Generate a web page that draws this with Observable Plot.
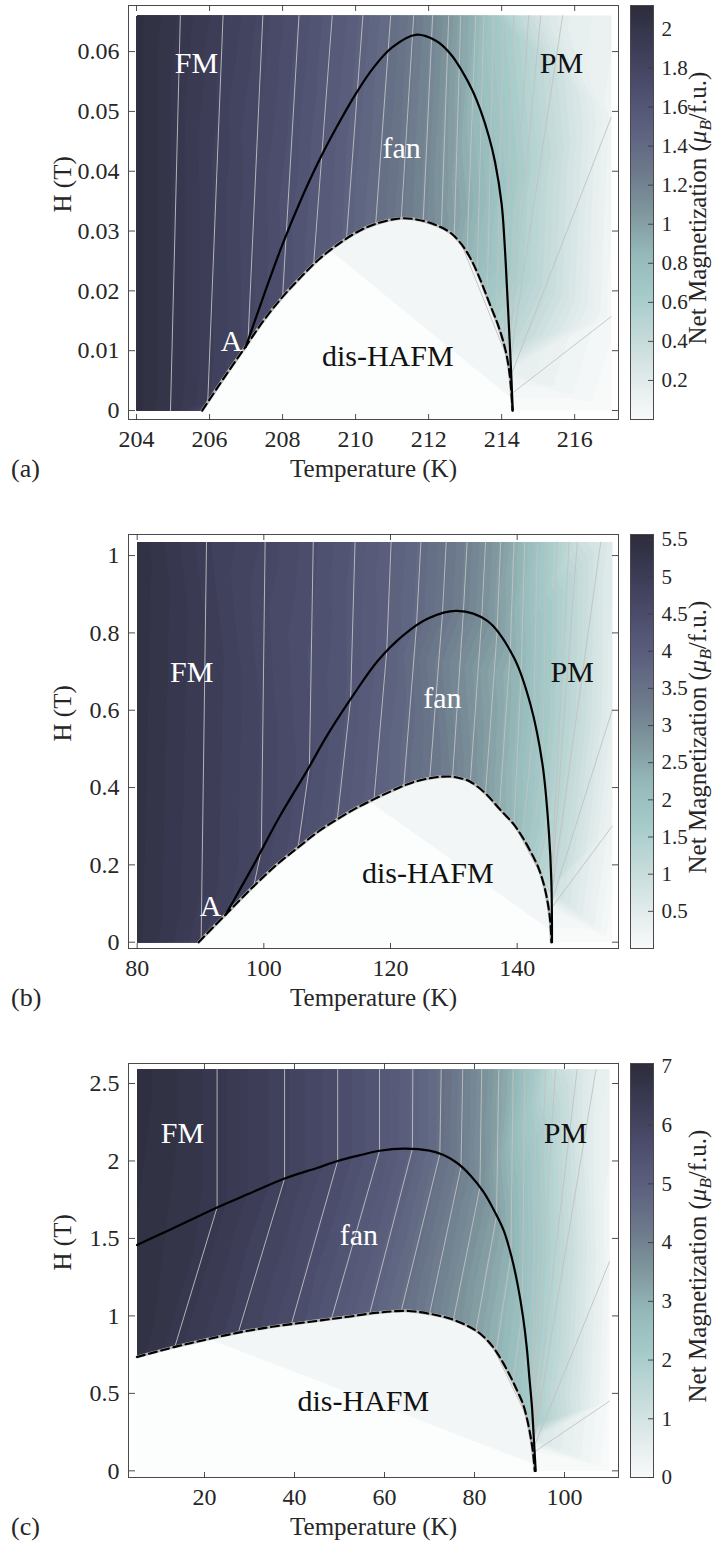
<!DOCTYPE html>
<html><head><meta charset="utf-8">
<script src="https://cdn.jsdelivr.net/npm/d3@7"></script>
<script src="https://cdn.jsdelivr.net/npm/@observablehq/plot@0.6"></script>
<style>
body{margin:0;background:#fff;}
#fig{position:relative;width:717px;height:1554px;font-family:"Liberation Serif",serif;color:#262626;}
#fig svg text{font-family:"Liberation Serif",serif;}
.tag{position:absolute;left:11px;font-size:26px;line-height:26px;font-family:"Liberation Serif",serif;color:#262626;}
</style></head><body><div id="fig"></div>
<script>
// ---------- colormap (fraction of colorbar max) ----------
const cmapStops  = [0, 0.1, 0.2, 0.3, 0.4, 0.5, 0.6, 0.7, 0.8, 0.9, 1];
const cmapColors = ["#f8fafa","#e0eaea","#c3dad9","#a5cbc9","#95b9b9","#7f979e","#6c798b","#5c617f","#4d4e6d","#3c3c56","#2c2c3c"];

// ---------- panel (a) ----------
const aXTicks = [204, 206, 208, 210, 212, 214, 216];
const aYTicks = [0, 0.01, 0.02, 0.03, 0.04, 0.05, 0.06];
const aCTicks = [0.2, 0.4, 0.6, 0.8, 1, 1.2, 1.4, 1.6, 1.8, 2];
const aLevels = [2.0,1.9,1.8,1.7,1.6,1.5,1.4,1.3,1.2,1.1,1.0,0.9,0.8,0.7,0.6,0.5,0.4,0.3,0.2,0.1,0.05];
const aIsolines = [
  [[205.2,0.066],[204.93,0]],
  [[206.37,0.066],[205.95,0.0014]],
  [[207.46,0.066],[207.05,0.0112]],
  [[208.45,0.066],[208.0,0.019]],
  [[209.36,0.066],[208.85,0.0244]],
  [[210.2,0.066],[209.75,0.0287]],
  [[210.96,0.066],[210.55,0.0312]],
  [[211.59,0.066],[211.25,0.0321]],
  [[212.11,0.066],[211.85,0.0316]],
  [[212.55,0.066],[212.35,0.0305]],
  [[212.88,0.066],[212.7,0.0291]],
  [[213.29,0.066],[213.05,0.0264]],
  [[213.51,0.066],[213.33,0.0228]],
  [[213.78,0.066],[213.6,0.0186]],
  [[214.05,0.066],[213.85,0.0148]],
  [[214.33,0.066],[214.06,0.0108]],
  [[214.74,0.066],[214.13,0.0094]],
  [[215.07,0.066],[214.17,0.0082]],
  [[215.67,0.066],[214.2,0.007]],
  [[217,0.049],[214.23,0.0055]],
  [[217,0.0157],[214.27,0.0028]]
];
const aEdges = [[204,0.066,2.1],[204,0,2.1],[217,0.066,0.12],[217,0,0],[214.3,0,0]];
const aDashed = [[205.8,0],[206.4,0.0055],[207,0.0108],[207.5,0.0152],[208,0.019],[208.5,0.0223],[209,0.0253],[209.5,0.0277],[210,0.0297],[210.5,0.0311],[211.2,0.0321],[211.7,0.0319],[212.2,0.031],[212.6,0.0297],[212.9,0.0278],[213.15,0.0254],[213.4,0.0221],[213.65,0.0182],[213.9,0.0143],[214.05,0.0114],[214.15,0.0088],[214.23,0.0055],[214.3,0]];
const aSolid = [[206.99,0.0106],[207.5,0.0195],[208,0.0278],[208.5,0.0352],[209,0.0418],[209.5,0.0476],[210,0.0529],[210.5,0.0574],[211,0.0607],[211.64,0.0628],[212.2,0.0618],[212.6,0.0596],[212.9,0.0569],[213.2,0.0535],[213.42,0.0502],[213.65,0.0458],[213.82,0.0415],[214,0.0345],[214.08,0.028],[214.15,0.02],[214.22,0.0115],[214.27,0.005],[214.3,0]];
const aHafm = [[[212.9,0.0278],[214.15,0.0088]]];
const aTint = [[209.3,0.0268],[214.27,0.002]];
const aLabelsLight = [["FM",205.64,0.058],["fan",211.26,0.0438],["A",206.6,0.0115]];
const aLabelsDark = [["PM",215.64,0.058],["dis-HAFM",210.88,0.009]];

// ---------- panel (b) ----------
const bXTicks = [80, 100, 120, 140];
const bYTicks = [0, 0.2, 0.4, 0.6, 0.8, 1];
const bCTicks = [0.5, 1, 1.5, 2, 2.5, 3, 3.5, 4, 4.5, 5, 5.5];
const bLevels = [5.0,4.75,4.5,4.25,4.0,3.75,3.5,3.25,3.0,2.75,2.5,2.25,2.0,1.75,1.5,1.25,1.0,0.75,0.5,0.25];
const bIsolines = [
  [[90.95,1.035],[90.1,0.007]],
  [[100.2,1.035],[99.6,0.237],[98.4,0.145]],
  [[107.8,1.035],[107.2,0.455],[105.4,0.245]],
  [[114.4,1.035],[113.7,0.628],[111.6,0.318]],
  [[120.1,1.035],[119.4,0.752],[117.4,0.37]],
  [[124.8,1.035],[124.1,0.818],[122.1,0.405]],
  [[128.8,1.035],[128.2,0.849],[126.2,0.424]],
  [[132.1,1.035],[131.5,0.852],[129.8,0.428]],
  [[135.0,1.035],[134.4,0.836],[132.6,0.415]],
  [[137.4,1.035],[136.8,0.797],[135.0,0.385]],
  [[139.5,1.035],[138.9,0.75],[137.2,0.345]],
  [[141.2,1.035],[140.6,0.685],[139.5,0.304]],
  [[143.2,1.035],[142.6,0.574],[140.9,0.27]],
  [[144.7,1.035],[144.0,0.46],[142.1,0.235]],
  [[146.3,1.035],[144.9,0.304],[143.3,0.195]],
  [[148.2,1.035],[145.35,0.15]],
  [[149.5,1.035],[145.4,0.135]],
  [[153.2,1.035],[145.43,0.12]],
  [[155,0.6],[145.46,0.105]],
  [[155,0.3],[145.48,0.09]]
];
const bEdges = [[80,1.035,5.45],[80,0,5.4],[155,1.035,0.65],[155,0,0],[145.5,0,0]];
const bDashed = [[89.7,0],[94,0.072],[98.4,0.145],[102,0.2],[105.4,0.245],[108.5,0.285],[111.6,0.318],[114.5,0.346],[117.4,0.37],[120,0.39],[122.1,0.405],[124,0.416],[126.2,0.424],[128,0.428],[129.8,0.428],[131.3,0.423],[132.6,0.415],[135,0.385],[137.2,0.345],[139.5,0.304],[140.9,0.27],[142.1,0.235],[143.3,0.195],[144.2,0.15],[144.85,0.1],[145.25,0.05],[145.4,0]];
const bSolid = [[94,0.072],[96,0.13],[98.4,0.2],[102.5,0.325],[106.8,0.443],[110,0.535],[114.2,0.641],[118,0.728],[122.1,0.795],[126,0.838],[130.5,0.857],[135.3,0.831],[139.5,0.736],[142.1,0.615],[144,0.46],[145,0.287],[145.4,0.157],[145.5,0]];
const bHafm = [[[139.6,0.302],[145.2,0.13]]];
const bTint = [[116.8,0.362],[145.35,0.03]];
const bLabelsLight = [["FM",88.6,0.697],["fan",128.2,0.631],["A",91.6,0.093]];
const bLabelsDark = [["PM",148.7,0.697],["dis-HAFM",125.9,0.178]];

// ---------- panel (c) ----------
const cXTicks = [20, 40, 60, 80, 100];
const cYTicks = [0, 0.5, 1, 1.5, 2, 2.5];
const cCTicks = [0, 1, 2, 3, 4, 5, 6, 7];
const cLevels = [6.6,6.2,5.8,5.4,5.0,4.6,4.2,3.8,3.4,3.0,2.6,2.2,1.8,1.4,1.0,0.6,0.25,0.1];
const cIsolines = [
  [[22.8,2.59],[22.8,1.7],[13.4,0.8]],
  [[37.8,2.59],[37.8,1.887],[27.5,0.892]],
  [[49.6,2.59],[49.6,2.0],[39.3,0.946]],
  [[58.9,2.59],[58.9,2.066],[48.2,0.98]],
  [[66.3,2.59],[66.2,2.078],[56.7,1.014]],
  [[72.6,2.59],[72.3,2.046],[63.7,1.029]],
  [[77.4,2.59],[77.0,1.963],[70.0,1.012]],
  [[81.6,2.59],[81.2,1.83],[75.3,0.974]],
  [[85.4,2.59],[84.9,1.648],[80.3,0.902]],
  [[88.6,2.59],[88.1,1.395],[84.8,0.769]],
  [[91.2,2.59],[90.6,1.025],[88.6,0.571]],
  [[93.6,2.59],[92.9,0.3]],
  [[95.8,2.59],[92.95,0.27]],
  [[98.0,2.59],[93.0,0.24]],
  [[102.8,2.59],[93.05,0.21]],
  [[107.0,2.59],[93.1,0.18]],
  [[110,1.35],[93.15,0.15]],
  [[110,0.45],[93.2,0.12]]
];
const cEdges = [[5,2.59,7.0],[5,0.735,6.85],[110,2.59,0.5],[110,0,0],[93.4,0,0]];
const cDashed = [[5,0.735],[13.4,0.8],[20,0.845],[27.5,0.892],[35,0.93],[45,0.968],[52,0.995],[58.2,1.02],[65.3,1.032],[71.4,1.006],[75,0.978],[78.5,0.935],[81.5,0.88],[84.2,0.796],[86.3,0.7],[88.1,0.602],[89.6,0.51],[90.8,0.43],[91.8,0.32],[92.5,0.215],[93,0.12],[93.4,0]];
const cSolid = [[5,1.457],[10,1.525],[15,1.593],[22.8,1.7],[30,1.79],[37.8,1.887],[45,1.955],[49.6,2.0],[55,2.04],[58.9,2.066],[64.3,2.08],[70,2.067],[73,2.04],[76,1.99],[79,1.91],[82,1.8],[84.5,1.672],[86.5,1.55],[88.2,1.385],[89.6,1.2],[90.8,0.99],[91.6,0.8],[92.2,0.6],[92.8,0.4],[93.2,0.2],[93.6,0]];
const cHafm = [[[84.6,0.77],[92.6,0.29]]];
const cTint = [[21,0.85],[93.3,0.04]];
const cLabelsLight = [["FM",15.1,2.18],["fan",54.3,1.52]];
const cLabelsDark = [["PM",100.2,2.18],["dis-HAFM",55.3,0.45]];

// ---------- layout ----------
const FW = 490, FH = 414, ML = 128, MT = 5, MB = 72, MR = 7;
const FONT = '"Liberation Serif", serif';
const INK = "#262626";
const fig = document.getElementById("fig");

function drawPanel(p) {
  const fillPts = [];
  p.isolines.forEach((ln, i) => ln.forEach(([T, H]) => fillPts.push({T, H, M: p.levels[i]})));
  p.edges.forEach(([T, H, M]) => fillPts.push({T, H, M}));
  const isoPts = p.isolines.flatMap((ln, i) => ln.map(([T, H]) => ({T, H, k: i})));
  const hafmPts = p.hafm.flatMap((ln, i) => ln.map(([T, H]) => ({T, H, k: i})));
  // faint wedge under the dashed curve: dashed curve above, straight chord below
  const [[t0, h0], [t1, h1]] = p.tint;
  const chord = d3.scaleLinear().domain([t0, t1]).range([h0, h1]);
  const tintPts = p.dashed.filter(d => d[0] >= t0 && d[0] <= t1);
  tintPts.unshift([t0, h0]); tintPts.push([t1, h1]);
  const color = {type: "linear", domain: cmapStops.map(t => t * p.cMax), range: cmapColors, interpolate: "rgb"};
  const thresholds = d3.range(0, p.cMax, p.cMax / 56);
  const fmt = d => String(d);
  const tk = {stroke: "#3a3a3a", strokeWidth: 0.9, label: null, tickFormat: () => ""};
  const lab = (arr, fill) => Plot.text(arr, {x: d => d[1], y: d => d[2], text: d => d[0], fill, fontSize: 30, fontFamily: FONT});

  const main = Plot.plot({
    width: ML + FW + MR, height: MT + FH + MB,
    marginLeft: ML, marginRight: MR, marginTop: MT, marginBottom: MB,
    x: {domain: p.xDomain}, y: {domain: p.yDomain}, color,
    style: {fontFamily: FONT, fontSize: "24px", color: INK, background: "none", overflow: "visible"},
    marks: [
      Plot.contour(fillPts, {x: "T", y: "H", fill: "M", interpolate: "barycentric", thresholds,
        x1: p.fill[0], x2: p.fill[1], y1: p.fill[2], y2: p.fill[3], stroke: "none", pixelSize: 1}),
      Plot.areaY(p.dashed, {x: d => d[0], y1: p.yDomain[0], y2: d => d[1], fill: "#fcfdfd", curve: "catmull-rom"}),
      Plot.areaY(tintPts, {x: d => d[0], y1: d => chord(d[0]), y2: d => d[1], fill: "#f2f6f6", curve: "linear"}),
      Plot.line(isoPts, {x: "T", y: "H", z: "k", stroke: "#c2c2c2", strokeWidth: 0.9}),
      Plot.line(hafmPts, {x: "T", y: "H", z: "k", stroke: "#c2c2c2", strokeWidth: 0.9}),
      Plot.line(p.dashed, {x: d => d[0], y: d => d[1], stroke: "#b5b5b5", strokeWidth: 3, curve: "catmull-rom"}),
      Plot.line(p.dashed, {x: d => d[0], y: d => d[1], stroke: "#000", strokeWidth: 2.1, strokeDasharray: "8,4.5", curve: "catmull-rom"}),
      Plot.line(p.solid, {x: d => d[0], y: d => d[1], stroke: "#000", strokeWidth: 2.2, curve: "catmull-rom"}),
      lab(p.labelsLight, "#ffffff"),
      lab(p.labelsDark, "#111111"),
      Plot.frame({stroke: "#4a4a4a", strokeWidth: 1}),
      Plot.axisX({ticks: p.xTicks, tickSize: 0, tickPadding: 10, fontSize: 24, fontFamily: FONT, fill: INK, tickFormat: fmt, label: null}),
      Plot.axisY({ticks: p.yTicks, tickSize: 0, tickPadding: 9, fontSize: 24, fontFamily: FONT, fill: INK, tickFormat: fmt, label: null}),
      Plot.axisX({...tk, anchor: "top", ticks: p.xTicks, tickSize: 6, dy: FH}),
      Plot.axisX({...tk, anchor: "bottom", ticks: p.xTicks, tickSize: 6, dy: -FH}),
      Plot.axisY({...tk, anchor: "right", ticks: p.yTicks, tickSize: 6, dx: -FW}),
      Plot.axisY({...tk, anchor: "left", ticks: p.yTicks, tickSize: 6, dx: FW}),
      Plot.text(["Temperature (K)"], {frameAnchor: "bottom", dy: 57, text: d => d, fontSize: 25, fontFamily: FONT, fill: INK}),
      Plot.text(["H (T)"], {frameAnchor: "left", dx: -66, rotate: -90, text: d => d, fontSize: 25, fontFamily: FONT, fill: INK})
    ]
  });
  main.style.position = "absolute"; main.style.left = "0px"; main.style.top = p.top + "px";
  fig.appendChild(main);

  const CBW = 23;
  const cb = Plot.plot({
    width: 117, height: MT + FH + MB, marginLeft: 30, marginRight: 117 - 30 - CBW, marginTop: MT, marginBottom: MB,
    x: {domain: [0, 1], axis: null}, y: {domain: [0, p.cMax]}, color,
    style: {fontFamily: FONT, fontSize: "21px", color: INK, background: "none", overflow: "visible"},
    marks: [
      Plot.raster({fill: (x, y) => y, x1: 0, x2: 1, y1: 0, y2: p.cMax, pixelSize: 1}),
      Plot.frame({stroke: "#4a4a4a", strokeWidth: 1}),
      Plot.axisY({anchor: "right", ticks: p.cTicks, tickSize: 0, tickPadding: 8, fontSize: 21, fontFamily: FONT, fill: INK, tickFormat: fmt, label: null}),
      Plot.axisY({...tk, anchor: "left", ticks: p.cTicks, tickSize: 5, dx: CBW})
    ]
  });
  const svg = d3.select(cb);
  const t = svg.append("text")
    .attr("transform", `translate(106,${MT + FH / 2 - 4}) rotate(-90)`)
    .attr("text-anchor", "middle").attr("font-size", 25).attr("font-family", FONT).attr("fill", INK);
  t.append("tspan").text("Net Magnetization (");
  t.append("tspan").attr("font-style", "italic").text("μ");
  t.append("tspan").attr("font-style", "italic").attr("font-size", 17).attr("dy", 5).text("B");
  t.append("tspan").attr("dy", -5).text("/f.u.)");
  cb.style.position = "absolute"; cb.style.left = "600px"; cb.style.top = p.top + "px";
  fig.appendChild(cb);

  const tag = document.createElement("div");
  tag.className = "tag"; tag.textContent = p.tag;
  tag.style.top = (p.top + MT + FH + 37) + "px";
  fig.appendChild(tag);
}

drawPanel({top: 0, tag: "(a)", xDomain: [203.78, 217.2], yDomain: [-0.0015, 0.0677], fill: [204, 217, 0, 0.066],
  xTicks: aXTicks, yTicks: aYTicks, cTicks: aCTicks, cMax: 2.12, levels: aLevels, isolines: aIsolines, edges: aEdges,
  dashed: aDashed, solid: aSolid, hafm: aHafm, tint: aTint, labelsLight: aLabelsLight, labelsDark: aLabelsDark});
drawPanel({top: 529, tag: "(b)", xDomain: [78.63, 156.0], yDomain: [-0.0163, 1.0545], fill: [80, 155, 0, 1.035],
  xTicks: bXTicks, yTicks: bYTicks, cTicks: bCTicks, cMax: 5.57, levels: bLevels, isolines: bIsolines, edges: bEdges,
  dashed: bDashed, solid: bSolid, hafm: bHafm, tint: bTint, labelsLight: bLabelsLight, labelsDark: bLabelsDark});
drawPanel({top: 1058, tag: "(c)", xDomain: [3.11, 112.0], yDomain: [-0.043, 2.629], fill: [5, 110, 0, 2.59],
  xTicks: cXTicks, yTicks: cYTicks, cTicks: cCTicks, cMax: 7.05, levels: cLevels, isolines: cIsolines, edges: cEdges,
  dashed: cDashed, solid: cSolid, hafm: cHafm, tint: cTint, labelsLight: cLabelsLight, labelsDark: cLabelsDark});
</script></body></html>
